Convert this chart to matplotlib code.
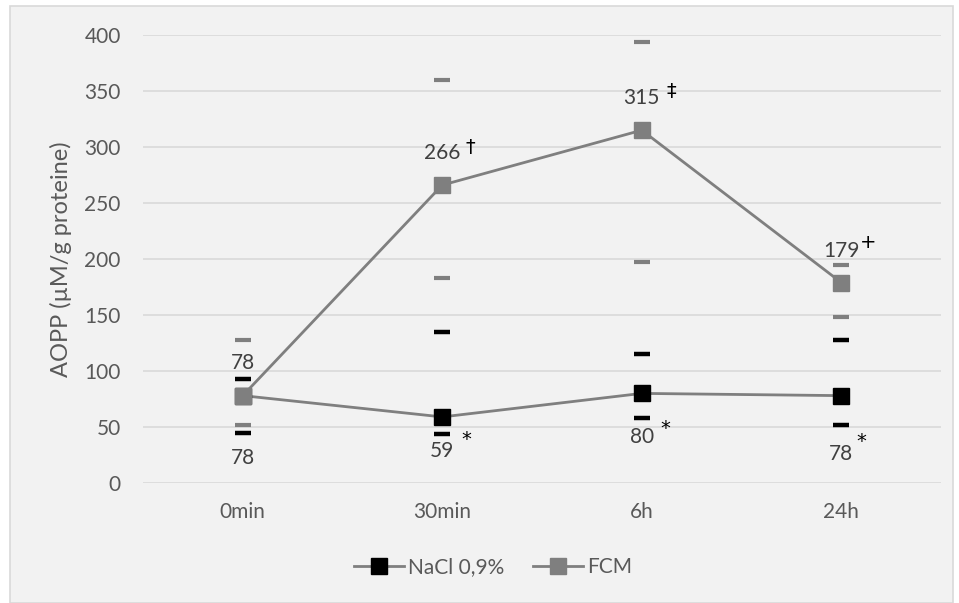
import matplotlib
matplotlib.use("Agg")
import matplotlib.pyplot as plt
from matplotlib.patches import Rectangle
from matplotlib.lines import Line2D

plt.rcParams['font.family'] = ['Lato', 'DejaVu Sans']

# AOPP values per time point
times = ['0min', '30min', '6h', '24h']
nacl = [78, 59, 80, 78]
fcm = [78, 266, 315, 179]

# upper / lower limits shown as dashes
nacl_hi = [93, 135, 115, 128]
nacl_lo = [45, 44, 58, 52]
fcm_hi = [128, 360, 394, 195]
fcm_lo = [52, 183, 197, 148]

# significance marks next to the value labels
nacl_marks = ['', '*', '*', '*']
fcm_marks = ['', '†', '‡', '+']

# label placement (pixels from the point): value offset, mark offset
nacl_lbl_off = [(0, -62), (0, -34), (0, -44), (0, -58)]
nacl_mark_off = [(0, 0), (24, 11), (24, 9), (20, 12)]
fcm_lbl_off = [(0, 33), (0, 32), (0, 32), (0, 32)]
fcm_mark_off = [(0, 0), (28, 6), (30, 7), (27, 8)]

W, H = 959, 603
fig = plt.figure(figsize=(W / 100, H / 100), dpi=100)
fig.patch.set_facecolor('white')
fig.patches.append(Rectangle((10 / W, 0), 943 / W, 597 / H, transform=fig.transFigure,
                             facecolor='#f2f2f2', edgecolor='#d9d9d9', lw=1.2, zorder=-5))

ax = fig.add_axes([143 / W, (H - 483) / H, 798 / W, 448 / H])
ax.set_facecolor('none')
x = list(range(len(times)))

line_c = '#7f7f7f'
ax.plot(x, nacl, color=line_c, lw=2, marker='s', ms=11, mfc='black', mec='black',
        label='NaCl 0,9%', zorder=3)
ax.plot(x, fcm, color=line_c, lw=2, marker='s', ms=11, mfc=line_c, mec=line_c,
        label='FCM', zorder=4)

ax.plot(x, nacl_hi, ls='none', marker='_', ms=11, mew=3.2, color='black', zorder=3)
ax.plot(x, nacl_lo, ls='none', marker='_', ms=11, mew=3.2, color='black', zorder=3)
ax.plot(x, fcm_hi, ls='none', marker='_', ms=11, mew=3, color=line_c, zorder=3)
ax.plot(x, fcm_lo, ls='none', marker='_', ms=11, mew=3, color=line_c, zorder=3)

txt_c = '#404040'
for vals, lbl_off, marks, mark_off in [(nacl, nacl_lbl_off, nacl_marks, nacl_mark_off),
                                       (fcm, fcm_lbl_off, fcm_marks, fcm_mark_off)]:
    for i, v in enumerate(vals):
        dx, dy = lbl_off[i]
        ax.annotate(str(v), (i, v), xytext=(dx, dy), textcoords='offset pixels',
                    ha='center', va='center', fontsize=15, color=txt_c, zorder=5)
        if marks[i]:
            mx, my = mark_off[i]
            ax.annotate(marks[i], (i, v), xytext=(dx + mx, dy + my), textcoords='offset pixels',
                        ha='center', va='center', fontsize=14, color='black', zorder=5,
                        family=['DejaVu Sans'])

ax.set_xlim(-0.5, 3.5)
ax.set_ylim(0, 400)
ax.set_yticks(range(0, 401, 50))
ax.set_xticks(x)
ax.set_xticklabels(times)
ax.grid(axis='y', color='#d9d9d9', lw=1.2)
ax.set_axisbelow(True)
for s in ax.spines.values():
    s.set_visible(False)
ax.tick_params(length=0, labelsize=15, labelcolor='#595959')
ax.tick_params(axis='y', pad=16)
ax.tick_params(axis='x', pad=14)
ax.set_ylabel('AOPP (µM/g proteine)', fontsize=17, color='#595959', va='center')
ax.yaxis.set_label_coords(-82 / 798, 0.5)

handles = [Line2D([], [], color=line_c, lw=2, marker='s', ms=11, mfc='black', mec='black'),
           Line2D([], [], color=line_c, lw=2, marker='s', ms=11, mfc=line_c, mec=line_c)]
fig.legend(handles, ['NaCl 0,9%', 'FCM'], loc='center', bbox_to_anchor=(493 / W, 1 - 567 / H),
           ncol=2, frameon=False, fontsize=15, labelcolor='#595959', handlelength=2.4,
           handletextpad=0.2, columnspacing=1.4)

fig.savefig('out.png', dpi=100, facecolor=fig.get_facecolor())
